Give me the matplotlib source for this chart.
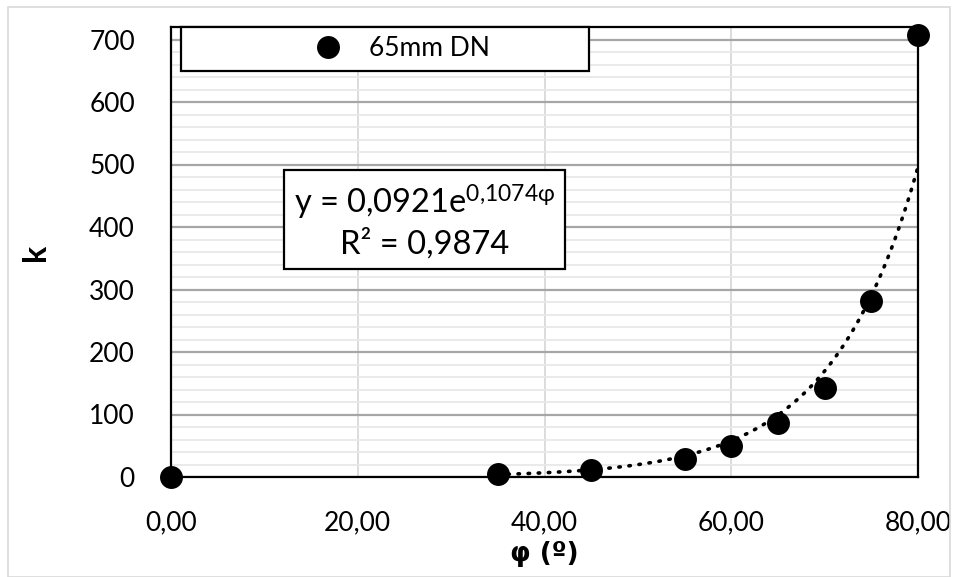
import numpy as np
import matplotlib
matplotlib.use('Agg')
import matplotlib.pyplot as plt
from matplotlib.ticker import MultipleLocator, FuncFormatter
from matplotlib.lines import Line2D
from matplotlib.patches import Rectangle

plt.rcParams['font.family'] = ['Lato', 'DejaVu Sans']
plt.rcParams['mathtext.fontset'] = 'custom'
plt.rcParams['mathtext.rm'] = 'Lato'
plt.rcParams['mathtext.it'] = 'Lato'
plt.rcParams['mathtext.fallback'] = 'stixsans'

# data
phi = [0, 35, 45, 55, 60, 65, 70, 75, 80]
k = [0, 5, 11, 29, 49, 86, 142, 282, 708]
series_name = '65mm DN'

# exponential trendline as printed on the chart
fit_a = 0.0921
fit_b = 0.1074
fit_r2 = 0.9874
fit_from, fit_to = 35, 80

def comma(v):
    return str(v).replace('.', ',')

fig = plt.figure(figsize=(9.58, 5.77), dpi=100)
fig.patches.append(Rectangle((8 / 958, 0), 942 / 958, 570 / 577, transform=fig.transFigure,
                             fill=False, edgecolor='#d9d9d9', linewidth=1.2))
ax = fig.add_axes([171 / 958, 1 - 477 / 577, 747 / 958, 450 / 577])

xs = np.linspace(fit_from, fit_to, 200)
ax.plot(xs, fit_a * np.exp(fit_b * xs), color='black', linestyle=(0, (0.4, 2.4)),
        linewidth=2.6, dash_capstyle='round', zorder=3)
ax.plot(phi, k, 'o', color='black', markersize=15.5, clip_on=False, zorder=4)

ax.set_xlim(0, 80)
ax.set_ylim(0, 720)
ax.xaxis.set_major_locator(MultipleLocator(20))
ax.yaxis.set_major_locator(MultipleLocator(100))
ax.yaxis.set_minor_locator(MultipleLocator(20))
ax.xaxis.set_major_formatter(FuncFormatter(lambda v, p: '{:.2f}'.format(v).replace('.', ',')))
ax.yaxis.set_major_formatter(FuncFormatter(lambda v, p: '{:d}'.format(int(v))))

ax.grid(axis='x', which='major', color='#d9d9d9', linewidth=1.3)
ax.grid(axis='y', which='major', color='#a6a6a6', linewidth=1.6)
ax.grid(axis='y', which='minor', color='#e8e8e8', linewidth=1.3)
ax.set_axisbelow(True)
ax.tick_params(which='both', length=0, labelsize=19, colors='black')
ax.tick_params(axis='x', pad=24)
ax.tick_params(axis='y', pad=26)
for s in ax.spines.values():
    s.set_color('black')
    s.set_linewidth(1.6)

ax.set_xlabel('φ (º)', fontsize=19, fontweight='bold', labelpad=4,
              family=['DejaVu Sans'])
ax.set_ylabel('k', fontsize=23, fontweight='bold', labelpad=28)

# legend: frame drawn as its own box, entry placed inside it
ax.add_patch(Rectangle((10 / 747, 1 - 44 / 450), 408 / 747, 44 / 450, transform=ax.transAxes,
                       facecolor='white', edgecolor='black', linewidth=1.6, zorder=5,
                       clip_on=False))
handle = Line2D([], [], marker='o', linestyle='none', color='black', markersize=15.5)
leg = ax.legend([handle], [series_name], loc='center left',
                bbox_to_anchor=(141 / 747, 1 - 22 / 450), fontsize=19,
                handlelength=1.2, handletextpad=0.95, borderpad=0, borderaxespad=0,
                frameon=False)
leg.set_zorder(6)

eq = 'y = {}e$^{{\\mathrm{{{}φ}}}}$\nR² = {}'.format(
    comma(fit_a), comma(fit_b).replace(',', '{,}'), comma(fit_r2))
ax.text(0.339, 0.569, eq, transform=ax.transAxes, fontsize=23.5, ha='center', va='center',
        linespacing=1.25, multialignment='center', zorder=6,
        bbox=dict(boxstyle='square,pad=0.3', facecolor='white', edgecolor='black', linewidth=1.6))

fig.savefig('out.png', dpi=100)
